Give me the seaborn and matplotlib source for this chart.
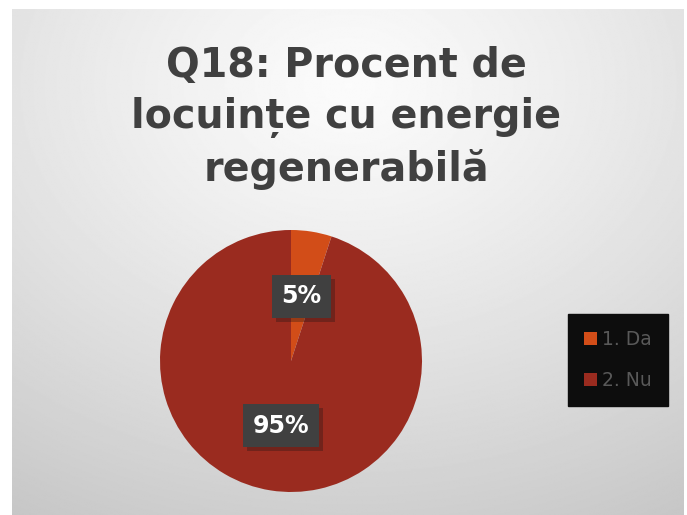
import numpy as np
import matplotlib
matplotlib.use("Agg")
import matplotlib.pyplot as plt
import matplotlib.patheffects as pe
import seaborn as sns

categories = ["1. Da", "2. Nu"]
values = [5, 95]
colors = ["#D24D18", "#9A2B1F"]
title = "Q18: Procent de\nlocuințe cu energie\nregenerabilă"

sns.set_theme(style="white")
plt.rcParams["font.family"] = ["DejaVu Sans"]

W, H = 687, 515
fig = plt.figure(figsize=(W / 100, H / 100), dpi=100)
fig.patch.set_facecolor("white")

# radial gradient panel
bg = fig.add_axes([12 / W, -0.01, (684 - 12) / W, (515 - 9) / H + 0.01])
yy, xx = np.mgrid[0:400, 0:540]
cx, cy = 270, 60
d = np.sqrt(((xx - cx) / 540) ** 2 + ((yy - cy) / 400) ** 2)
d = d / d.max()
shade = 0.985 - 0.21 * d ** 1.2
bg.imshow(shade, cmap="gray", vmin=0, vmax=1, aspect="auto",
          extent=[0, 1, 0, 1], origin="upper")
bg.set_axis_off()

fig.text(346 / W, 1 - 118 / H, title, ha="center", va="center",
         fontsize=28.5, fontweight="bold", color="#404040", linespacing=1.36)

# pie
r = 131
cxp, cyp = 291, 361
ax = fig.add_axes([(cxp - r) / W, 1 - (cyp + r) / H, 2 * r / W, 2 * r / H])
wedges, texts, autotexts = ax.pie(
    values, colors=colors, startangle=90, counterclock=False,
    autopct=lambda p: f"{p:.0f}%", pctdistance=0.5,
    wedgeprops=dict(linewidth=0),
    textprops=dict(color="white", fontsize=17, fontweight="bold"))
for t in autotexts:
    t.set_bbox(dict(boxstyle="square,pad=0.4", facecolor="#404040",
                    edgecolor="none",
                    path_effects=[pe.withSimplePatchShadow(offset=(3, -3),
                                                           alpha=0.3)]))
ax.set_xlim(-1, 1)
ax.set_ylim(-1, 1)
ax.set_aspect("equal")
ax.set_axis_off()

leg = fig.legend(wedges, categories, loc="center",
                 bbox_to_anchor=(618 / W, 1 - 360 / H),
                 frameon=True, fontsize=13.5, handlelength=0.7, handleheight=0.7,
                 handletextpad=0.3, labelspacing=1.15, borderpad=0.85,
                 fancybox=False)
leg.get_frame().set_facecolor("#0d0d0d")
leg.get_frame().set_edgecolor("#0d0d0d")
leg.get_frame().set_alpha(1)
for t in leg.get_texts():
    t.set_color("#595959")

fig.savefig("out.png", dpi=100)
